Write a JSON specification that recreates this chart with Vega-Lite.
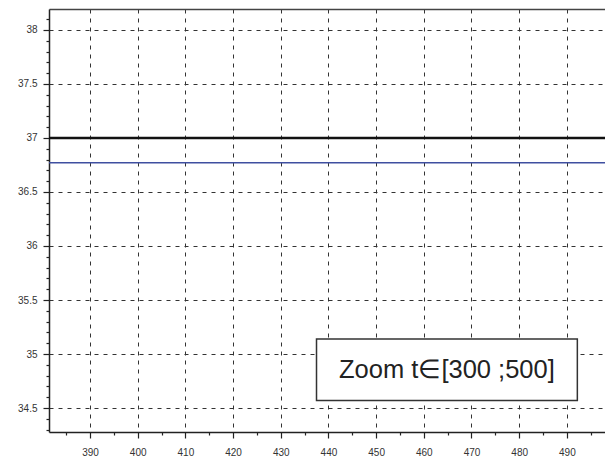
{
  "$schema": "https://vega.github.io/schema/vega-lite/v6.json",
  "width": 556,
  "height": 423,
  "autosize": "none",
  "padding": {"left": 49, "top": 9, "right": 0, "bottom": 29},
  "background": "white",
  "config": {
    "view": {"stroke": null},
    "font": "Liberation Sans",
    "axis": {"labelFont": "Liberation Sans", "labelFontSize": 10, "labelColor": "#333333", "domainColor": "#222222", "tickColor": "#222222", "title": null}
  },
  "datasets": {
    "lines": [
      {"t": 381.4, "v": 37.0, "s": "reference"},
      {"t": 498.0, "v": 37.0, "s": "reference"},
      {"t": 381.4, "v": 36.77, "s": "estimate"},
      {"t": 498.0, "v": 36.77, "s": "estimate"}
    ],
    "note": [
      {"label": "Zoom t∈[300 ;500]", "t0": 437.5, "t1": 492.2, "v0": 34.57, "v1": 35.14, "tm": 464.85, "vm": 34.855}
    ]
  },
  "resolve": {"axis": {"x": "independent", "y": "independent"}},
  "layer": [
    {
      "data": {"name": "lines"},
      "mark": {"type": "line", "strokeCap": "butt"},
      "encoding": {
        "x": {"field": "t", "type": "quantitative", "scale": {"domain": [381.4, 498], "nice": false, "zero": false},
          "axis": {"orient": "bottom", "values": [390, 400, 410, 420, 430, 440, 450, 460, 470, 480, 490], "format": "d", "tickSize": 6, "tickWidth": 1.2, "domainWidth": 1.5, "labelPadding": 9, "grid": true, "gridColor": "#333333", "gridDash": [4, 5], "gridWidth": 1, "gridOpacity": 1}},
        "y": {"field": "v", "type": "quantitative", "scale": {"domain": [34.278, 38.194], "nice": false, "zero": false},
          "axis": {"orient": "left", "values": [34.5, 35, 35.5, 36, 36.5, 37, 37.5, 38], "format": "~g", "tickSize": 6, "tickWidth": 1.2, "domainWidth": 1.5, "labelPadding": 6, "grid": true, "gridColor": "#333333", "gridDash": [4, 5], "gridWidth": 1, "gridOpacity": 1}},
        "color": {"field": "s", "type": "nominal", "scale": {"domain": ["reference", "estimate"], "range": ["#111111", "#3f4fa0"]}, "legend": null},
        "strokeWidth": {"field": "s", "type": "nominal", "scale": {"domain": ["reference", "estimate"], "range": [2.5, 1.5]}, "legend": null}
      }
    },
    {
      "data": {"name": "note"},
      "mark": {"type": "rect", "fill": "white", "stroke": "#333333", "strokeWidth": 1.5},
      "encoding": {
        "x": {"field": "t0", "type": "quantitative",
          "axis": {"orient": "bottom", "values": [385, 395, 405, 415, 425, 435, 445, 455, 465, 475, 485, 495], "labels": false, "domain": false, "grid": false, "tickSize": 3, "tickWidth": 1.2}},
        "x2": {"field": "t1"},
        "y": {"field": "v0", "type": "quantitative",
          "axis": {"orient": "left", "values": [34.3, 34.4, 34.6, 34.7, 34.8, 34.9, 35.1, 35.2, 35.3, 35.4, 35.6, 35.7, 35.8, 35.9, 36.1, 36.2, 36.3, 36.4, 36.6, 36.7, 36.8, 36.9, 37.1, 37.2, 37.3, 37.4, 37.6, 37.7, 37.8, 37.9, 38.1], "labels": false, "domain": false, "grid": false, "tickSize": 3, "tickWidth": 1.2}},
        "y2": {"field": "v1"}
      }
    },
    {
      "data": {"name": "note"},
      "mark": {"type": "text", "fontSize": 25.5, "color": "#222222", "align": "center", "baseline": "middle", "font": "Liberation Sans"},
      "encoding": {
        "x": {"field": "tm", "type": "quantitative",
          "axis": {"orient": "top", "labels": false, "ticks": false, "grid": false, "domain": true, "domainWidth": 1.5, "domainColor": "#444444"}},
        "y": {"field": "vm", "type": "quantitative", "axis": null},
        "text": {"field": "label"}
      }
    }
  ]
}
